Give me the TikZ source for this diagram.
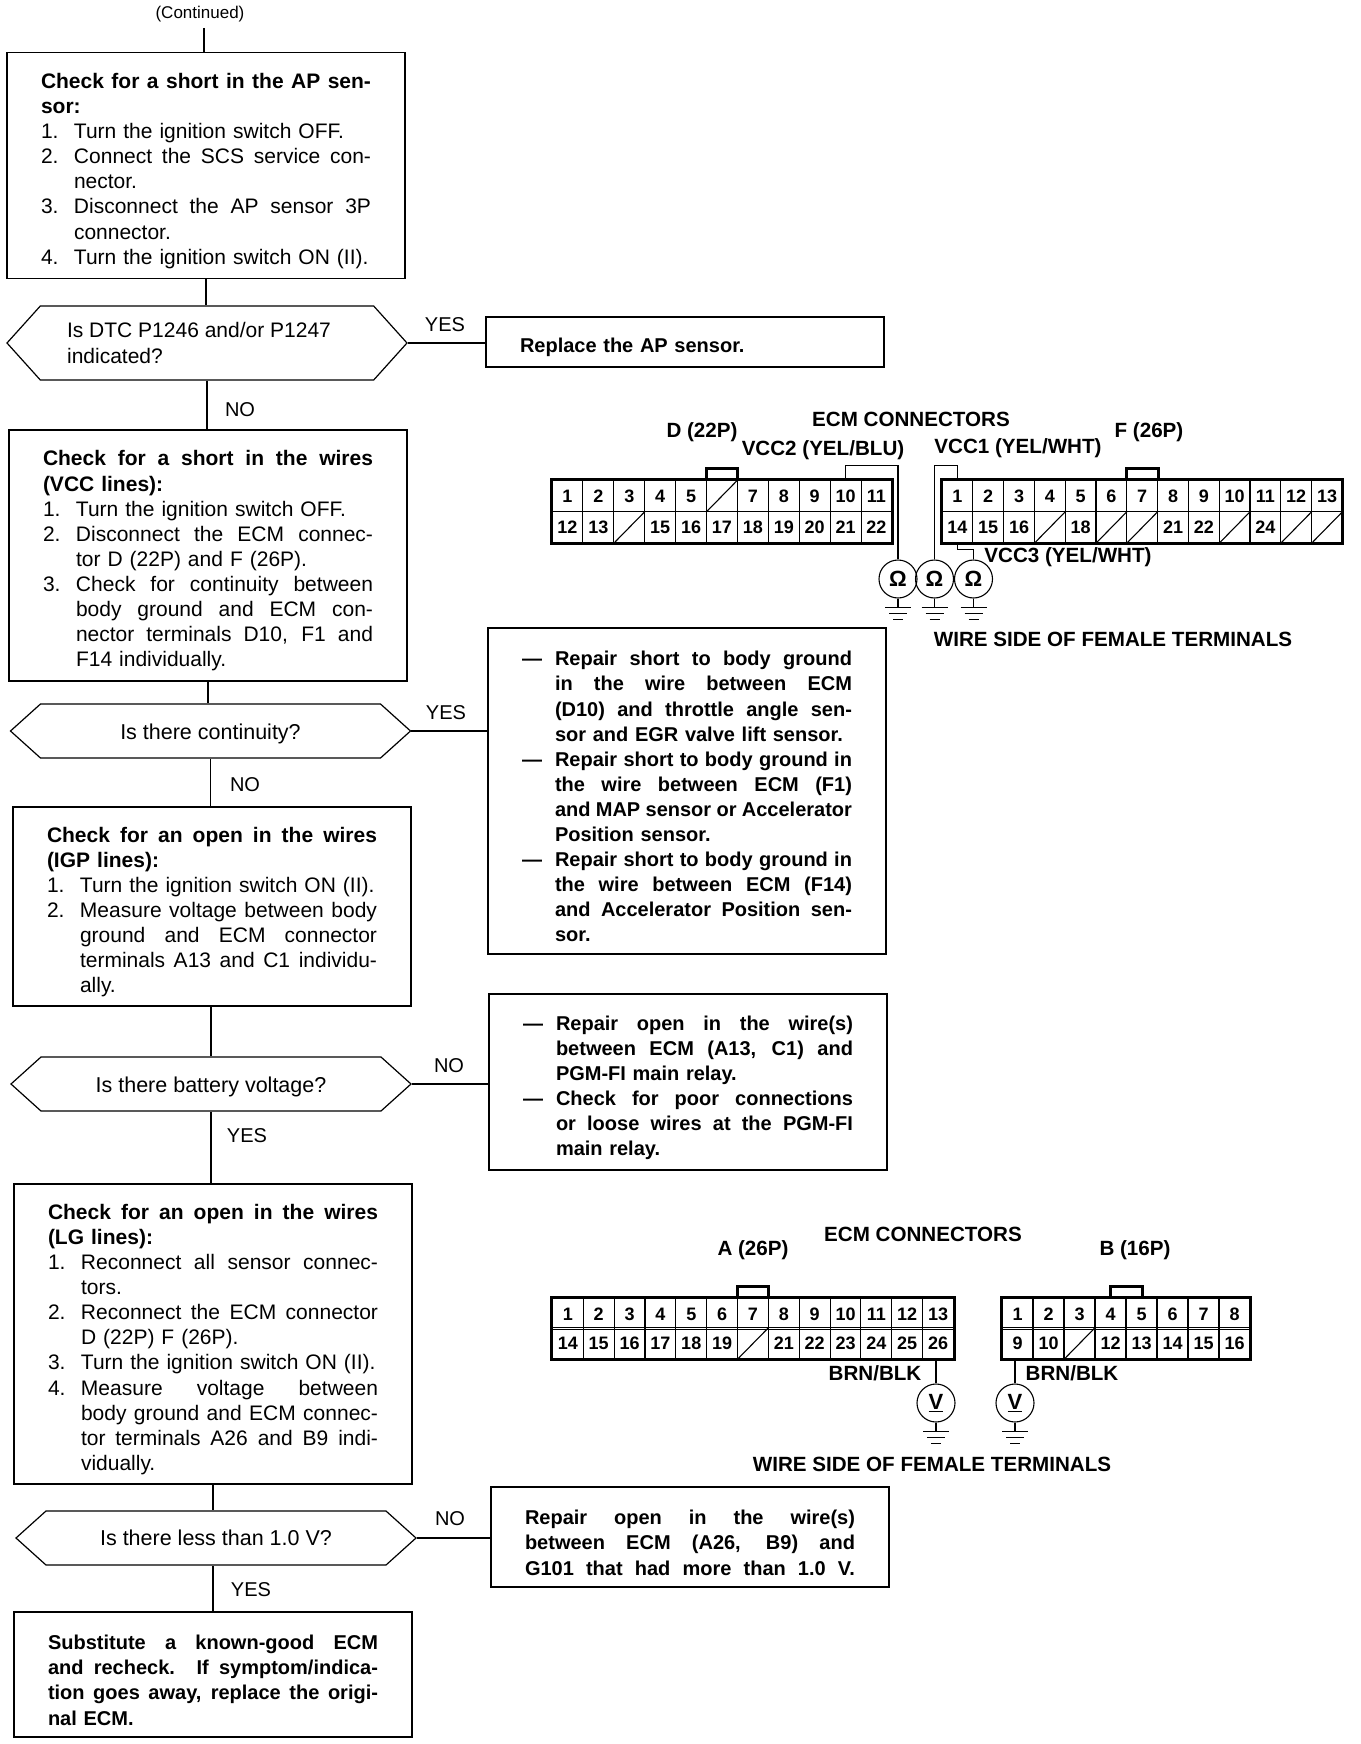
\documentclass[tikz,border=0pt]{standalone}
\usepackage{fontspec}
\setmainfont{Liberation Sans}
\usetikzlibrary{shapes.geometric, shapes.symbols, positioning}
\newcommand{\jl}[1]{\makebox[330pt][s]{\spaceskip=0pt\xspaceskip=0pt #1}}
\newcommand{\nj}[2]{\makebox[33pt][l]{#1}\makebox[297pt][s]{\spaceskip=0pt\xspaceskip=0pt #2}}
\newcommand{\nn}[2]{\makebox[33pt][l]{#1}#2}
\tikzset{
  flowbox/.style={rectangle, draw, line width=1.2pt, align=left, text width=330pt, inner xsep=34pt,
                  inner ysep=0pt, font=\fontsize{21}{25.1}\selectfont, execute at begin node={\rule{0pt}{26pt}}},
  repairbox/.style={flowbox, font=\fontsize{20}{25.1}\selectfont\bfseries},
  askbox/.style={signal, signal from=nowhere, signal to=east and west, signal pointer angle=84, draw, line width=1.2pt,
                 minimum width=400pt, minimum height=54pt, inner sep=0pt, align=left, font=\fontsize{21.5}{25.1}\selectfont},
  flowline/.style={line width=1.2pt},
  wire/.style={line width=1.1pt},
  flowlbl/.style={font=\fontsize{20}{24}\selectfont, inner sep=0pt},
  connlbl/.style={font=\fontsize{20.6}{24}\selectfont\bfseries, inner sep=0pt},
  pincell/.style={rectangle, draw, line width=1pt, minimum width=30.9pt, minimum height=31.5pt, inner sep=0pt,
                  font=\fontsize{18}{20}\selectfont\bfseries},
  connbody/.style={line width=3pt},
  meter/.style={circle, draw, line width=1.1pt, minimum size=38pt, inner sep=0pt, font=\fontsize{22}{24}\selectfont\bfseries},
}
\begin{document}
\begin{tikzpicture}[x=1pt, y=-1pt]
  \useasboundingbox (0,0) rectangle (1360,1744);
  % flow, left column
  \node[flowlbl, font=\fontsize{17}{20}\selectfont] (cont) at (200,14) {(Continued)};
  \coordinate (contend) at (204,28);
  \node[flowbox, minimum height=226pt] (shortap) at (206,165.5) {\textbf{\jl{Check for a short in the AP sen-}}\\\textbf{sor:}\\
    \nn{1.}{Turn the ignition switch OFF.}\\\nj{2.}{Connect the SCS service con-}\\\nn{}{nector.}\\
    \nj{3.}{Disconnect the AP sensor 3P}\\\nn{}{connector.}\\\nn{4.}{Turn the ignition switch ON (II).}};
  \node[askbox, minimum height=74pt, signal pointer angle=96, font=\fontsize{21}{25.1}\selectfont] (dtc) at (207,343) {Is DTC P1246 and/or P1247\hspace*{16pt}\\indicated?};
  \node[flowbox, minimum height=251pt] (shortvcc) at (208,555.5) {\textbf{\jl{Check for a short in the wires}}\\\textbf{(VCC lines):}\\
    \nn{1.}{Turn the ignition switch OFF.}\\\nj{2.}{Disconnect the ECM connec-}\\\nn{}{tor D (22P) and F (26P).}\\
    \nj{3.}{Check for continuity between}\\\nj{}{body ground and ECM con-}\\\nj{}{nector terminals D10, F1 and}\\\nn{}{F14 individually.}};
  \node[askbox] (contin) at (210.5,731) {\rule{0pt}{22pt}Is there continuity?};
  \node[flowbox, minimum height=199pt] (openigp) at (212,906.5) {\textbf{\jl{Check for an open in the wires}}\\\textbf{(IGP lines):}\\
    \nn{1.}{Turn the ignition switch ON (II).}\\\nj{2.}{Measure voltage between body}\\\nj{}{ground and ECM connector}\\
    \nj{}{terminals A13 and C1 individu-}\\\nn{}{ally.}};
  \node[askbox] (batt) at (211,1084) {\rule{0pt}{22pt}Is there battery voltage?};
  \node[flowbox, minimum height=300pt] (openlg) at (213,1334) {\textbf{\jl{Check for an open in the wires}}\\\textbf{(LG lines):}\\
    \nj{1.}{Reconnect all sensor connec-}\\\nn{}{tors.}\\\nj{2.}{Reconnect the ECM connector}\\\nn{}{D (22P) F (26P).}\\
    \nn{3.}{Turn the ignition switch ON (II).}\\\nj{4.}{Measure voltage between}\\\nj{}{body ground and ECM connec-}\\
    \nj{}{tor terminals A26 and B9 indi-}\\\nn{}{vidually.}};
  \node[askbox] (lessv) at (216,1538) {Is there less than 1.0 V?};
  \node[repairbox, minimum height=125pt, execute at begin node={\rule{0pt}{21pt}}] (subst) at (213,1674.5) {\jl{Substitute a known-good ECM}\\\jl{and recheck. If symptom/indica-}\\
    \jl{tion goes away, replace the origi-}\\nal ECM.};
  % flow, right column
  \node[repairbox, minimum height=50pt] (replap) at (685,342) {Replace the AP sensor.};
  \node[repairbox, minimum height=326pt] (repshort) at (687,791) {\nj{---}{Repair short to body ground}\\\nj{}{in the wire between ECM}\\\nj{}{(D10) and throttle angle sen-}\\
    \nn{}{sor and EGR valve lift sensor.}\\\nj{---}{Repair short to body ground in}\\\nj{}{the wire between ECM (F1)}\\\nj{}{and MAP sensor or Accelerator}\\
    \nn{}{Position sensor.}\\\nj{---}{Repair short to body ground in}\\\nj{}{the wire between ECM (F14)}\\\nj{}{and Accelerator Position sen-}\\\nn{}{sor.}};
  \node[repairbox, minimum height=176pt] (repopen) at (688,1082) {\nj{---}{Repair open in the wire(s)}\\\nj{}{between ECM (A13, C1) and}\\\nn{}{PGM-FI main relay.}\\
    \nj{---}{Check for poor connections}\\\nj{}{or loose wires at the PGM-FI}\\\nn{}{main relay.}};
  \node[repairbox, minimum height=100pt, execute at begin node={\rule{0pt}{21pt}}] (repg) at (690,1537) {\jl{Repair open in the wire(s)}\\\jl{between ECM (A26, B9) and}\\\jl{G101 that had more than 1.0 V.}};
  % connectors between boxes
  \draw[flowline] (contend) -- (contend |- shortap.north);
  \draw[flowline] (shortap.south) -- (shortap.south |- dtc.north);
  \draw[flowline] (dtc.south) -- (dtc.south |- shortvcc.north);
  \draw[flowline] (shortvcc.south) -- (shortvcc.south |- contin.north);
  \draw[flowline] (contin.south) -- (contin.south |- openigp.north);
  \draw[flowline] (batt.north) -- (batt.north |- openigp.south);
  \draw[flowline] (batt.south) -- (batt.south |- openlg.north);
  \draw[flowline] (openlg.south) -- (openlg.south |- lessv.north);
  \draw[flowline] (subst.north) -- (subst.north |- lessv.south);
  \draw[flowline] (dtc.east) -- (dtc.east -| replap.west);
  \draw[flowline] (contin.east) -- (contin.east -| repshort.west);
  \draw[flowline] (batt.east) -- (batt.east -| repopen.west);
  \draw[flowline] (lessv.east) -- (lessv.east -| repg.west);
  \node[flowlbl] (yes1) at (445,325) {YES};
  \node[flowlbl] (no1) at (240,410) {NO};
  \node[flowlbl] (yes2) at (446,713) {YES};
  \node[flowlbl] (no2) at (245,785) {NO};
  \node[flowlbl] (no3) at (449,1066) {NO};
  \node[flowlbl] (yes3) at (247,1136) {YES};
  \node[flowlbl] (no4) at (450,1519) {NO};
  \node[flowlbl] (yes4) at (251,1590) {YES};
  % ECM connectors D and F
  \foreach \lab [count=\i] in {1,2,3,4,5,{},7,8,9,10,11}
    \node[pincell] (Dt\i) at ({536.55+30.9*\i},496) {\lab};
  \foreach \lab [count=\i] in {12,13,{},15,16,17,18,19,20,21,22}
    \node[pincell] (Db\i) at ({536.55+30.9*\i},527.5) {\lab};
  \foreach \lab [count=\i] in {1,2,3,4,5,6,7,8,9,10,11,12,13}
    \node[pincell] (Ft\i) at ({926.6+30.8*\i},496) {\lab};
  \foreach \lab [count=\i] in {14,15,16,{},18,{},{},21,22,{},24,{},{}}
    \node[pincell] (Fb\i) at ({926.6+30.8*\i},527.5) {\lab};
  \foreach \c in {Dt6,Db3,Fb4,Fb6,Fb7,Fb10,Fb12,Fb13}
    \draw[wire] (\c.south west) -- (\c.north east);
  \draw[connbody] (Dt1.north west) rectangle (Db11.south east);
  \draw[connbody] (Ft1.north west) rectangle (Fb13.south east);
  \draw[connbody] (Dt6.north west) -- ++(0,-11) -| (Dt6.north east);
  \draw[connbody] (Ft7.north west) -- ++(0,-11) -| (Ft7.north east);
  \node[meter] (ohmb) at (898,579) {Ω};
  \node[meter] (ohmc) at (934.5,579) {Ω};
  \node[meter] (ohmd) at (973.5,579) {Ω};
  \draw[wire] (Dt10.north) -- ++(0,-14) -| (ohmb.north);
  \draw[wire] (Ft1.north) -- ++(0,-14) -| (ohmc.north);
  \draw[wire] (Fb1.south) -- ++(0,6) -| (ohmd.north);
  \node[connlbl] (ecmt) at (911,419) {ECM CONNECTORS};
  \node[connlbl] (dname) at (702,432) {D (22P)};
  \node[connlbl] (fname) at (1149,432) {F (26P)};
  \node[connlbl] (vcctwo) at (823,450) {VCC2 (YEL/BLU)};
  \node[connlbl] (vccone) at (1018,448) {VCC1 (YEL/WHT)};
  \node[connlbl] (vccthr) at (1068,557) {VCC3 (YEL/WHT)};
  \node[connlbl] (wiret) at (1113,639) {WIRE SIDE OF FEMALE TERMINALS};
  % ECM connectors A and B
  \foreach \lab [count=\i] in {1,2,3,4,5,6,7,8,9,10,11,12,13}
    \node[pincell] (At\i) at ({537+30.85*\i},1314) {\lab};
  \foreach \lab [count=\i] in {14,15,16,17,18,19,{},21,22,23,24,25,26}
    \node[pincell] (Ab\i) at ({537+30.85*\i},1343.5) {\lab};
  \foreach \lab [count=\i] in {1,2,3,4,5,6,7,8}
    \node[pincell] (Bt\i) at ({986.5+31*\i},1314) {\lab};
  \foreach \lab [count=\i] in {9,10,{},12,13,14,15,16}
    \node[pincell] (Bb\i) at ({986.5+31*\i},1343.5) {\lab};
  \foreach \c in {Ab7,Bb3}
    \draw[wire] (\c.south west) -- (\c.north east);
  \draw[connbody] (At1.north west) rectangle (Ab13.south east);
  \draw[connbody] (Bt1.north west) rectangle (Bb8.south east);
  \draw[connbody] (At7.north west) -- ++(0,-11) -| (At7.north east);
  \draw[connbody] (Bt4.north east) ++(-16,0) -- ++(0,-11) -- ++(32,0) -- ++(0,11);
  \node[meter] (va) at (936,1403) {\underline{V}};
  \node[meter] (vb) at (1015,1403) {\underline{V}};
  \draw[wire] (Ab13.south -| va.north) -- (va.north);
  \draw[wire] (Bb1.south -| vb.north) -- (vb.north);
  \node[connlbl] (ecmb) at (923,1234) {ECM CONNECTORS};
  \node[connlbl] (aname) at (753,1250) {A (26P)};
  \node[connlbl] (bname) at (1135,1250) {B (16P)};
  \node[connlbl] (brna) at (875,1373) {BRN/BLK};
  \node[connlbl] (brnb) at (1072,1373) {BRN/BLK};
  \node[connlbl] (wireb) at (932,1464) {WIRE SIDE OF FEMALE TERMINALS};
  % ground symbols under the meters
  \foreach \m in {ohmb,ohmc,ohmd,va,vb}
    \draw[wire] (\m.south) -- ++(0,9) ++(-13,0) -- ++(26,0) ++(-22,6) -- ++(18,0) ++(-14,6) -- ++(10,0);
\end{tikzpicture}
\end{document}
